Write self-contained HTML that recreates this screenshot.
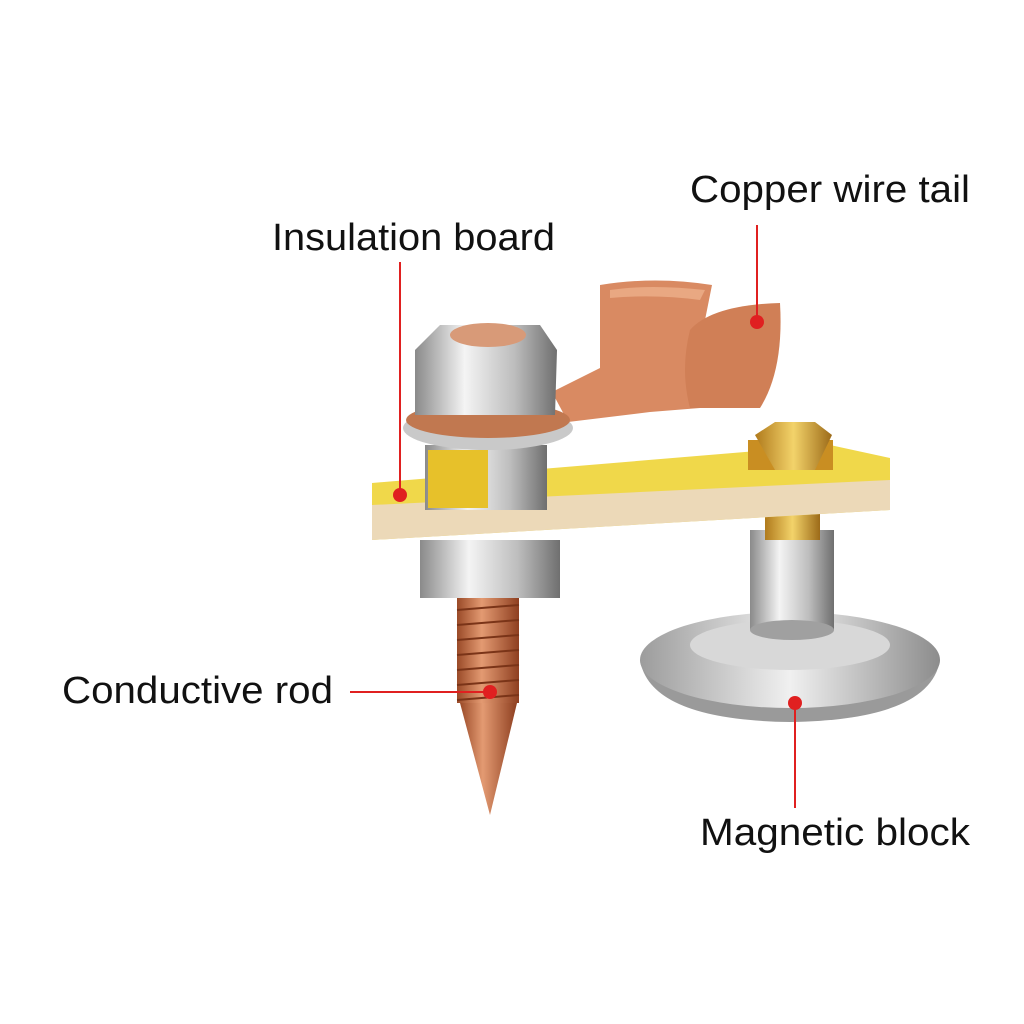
<!DOCTYPE html>
<html><head><meta charset="utf-8"><style>
html,body{margin:0;padding:0;background:#fff;}
svg{display:block}
text{font-family:"Liberation Sans",sans-serif;font-size:38px;fill:#111;}
</style></head><body>
<svg width="1024" height="1024" viewBox="0 0 1024 1024" xmlns="http://www.w3.org/2000/svg">
<defs>
<linearGradient id="steel" x1="0" x2="1"><stop offset="0" stop-color="#8a8a8a"/><stop offset=".35" stop-color="#f4f4f4"/><stop offset=".7" stop-color="#bdbdbd"/><stop offset="1" stop-color="#6f6f6f"/></linearGradient>
<linearGradient id="cu" x1="0" x2="1"><stop offset="0" stop-color="#9a4a28"/><stop offset=".4" stop-color="#e39a72"/><stop offset="1" stop-color="#8e3f20"/></linearGradient>
<linearGradient id="disk" x1="0" x2="1"><stop offset="0" stop-color="#9c9c9c"/><stop offset=".5" stop-color="#f0f0f0"/><stop offset="1" stop-color="#8c8c8c"/></linearGradient>
<linearGradient id="brass" x1="0" x2="1"><stop offset="0" stop-color="#b07a1c"/><stop offset=".5" stop-color="#f3d36a"/><stop offset="1" stop-color="#9c6a18"/></linearGradient>
</defs>
<rect width="1024" height="1024" fill="#fff"/>
<path d="M640 660 Q650 720 790 722 Q930 720 940 660 Z" fill="#9a9a9a"/>
<ellipse cx="790" cy="660" rx="150" ry="48" fill="url(#disk)"/>
<ellipse cx="790" cy="645" rx="100" ry="25" fill="#d8d8d8"/>
<rect x="750" y="530" width="84" height="100" fill="url(#steel)"/>
<ellipse cx="792" cy="630" rx="42" ry="10" fill="#a0a0a0"/>
<rect x="765" y="505" width="55" height="35" fill="url(#brass)"/>
<polygon points="372,483 830,445 890,458 890,510 372,540" fill="#f0d84a"/>
<polygon points="372,505 890,480 890,510 372,540" fill="#ecd9b8"/>
<rect x="748" y="440" width="85" height="30" fill="#c98e22"/>
<polygon points="755,435 775,422 815,422 832,435 815,470 775,470" fill="url(#brass)"/>
<!-- copper tail U channel -->
<path d="M552 392 L600 368 L600 285 Q655 276 712 285 L700 345 Q690 400 700 408 L650 412 L568 422 Z" fill="#d98a62"/>
<path d="M690 330 Q712 305 780 303 Q784 370 760 408 L690 408 Q680 370 690 330 Z" fill="#d07f56"/>
<path d="M610 290 Q650 284 705 290 L700 300 Q655 294 610 298 Z" fill="#e9a882"/>
<rect x="420" y="540" width="140" height="58" fill="url(#steel)"/>
<rect x="425" y="445" width="122" height="65" fill="url(#steel)"/>
<rect x="428" y="450" width="60" height="58" fill="#e7c12a"/>
<ellipse cx="488" cy="428" rx="85" ry="22" fill="#c9c9c9"/>
<ellipse cx="488" cy="420" rx="82" ry="18" fill="#c17850"/>
<path d="M415 350 L440 325 L540 325 L557 350 L555 415 L415 415 Z" fill="url(#steel)"/>
<ellipse cx="488" cy="335" rx="38" ry="12" fill="#d89a78"/>
<rect x="457" y="598" width="62" height="105" fill="url(#cu)"/>
<g stroke="#7a3418" stroke-width="2">
<line x1="457" y1="610" x2="519" y2="605"/><line x1="457" y1="625" x2="519" y2="620"/><line x1="457" y1="640" x2="519" y2="635"/><line x1="457" y1="655" x2="519" y2="650"/><line x1="457" y1="670" x2="519" y2="665"/><line x1="457" y1="685" x2="519" y2="680"/><line x1="457" y1="700" x2="519" y2="695"/></g>
<polygon points="460,703 517,703 490,815" fill="url(#cu)"/>
<g stroke="#e02020" stroke-width="2" fill="none">
<line x1="757" y1="225" x2="757" y2="322"/>
<line x1="400" y1="262" x2="400" y2="495"/>
<line x1="350" y1="692" x2="490" y2="692"/>
<line x1="795" y1="703" x2="795" y2="808"/>
</g>
<g fill="#e02020">
<circle cx="757" cy="322" r="7"/><circle cx="400" cy="495" r="7"/><circle cx="490" cy="692" r="7"/><circle cx="795" cy="703" r="7"/>
</g>
<text x="690" y="202" textLength="280" lengthAdjust="spacingAndGlyphs">Copper wire tail</text>
<text x="272" y="250" textLength="283" lengthAdjust="spacingAndGlyphs">Insulation board</text>
<text x="62" y="703" textLength="271" lengthAdjust="spacingAndGlyphs">Conductive rod</text>
<text x="700" y="845" textLength="270" lengthAdjust="spacingAndGlyphs">Magnetic block</text>
</svg>
</body></html>
